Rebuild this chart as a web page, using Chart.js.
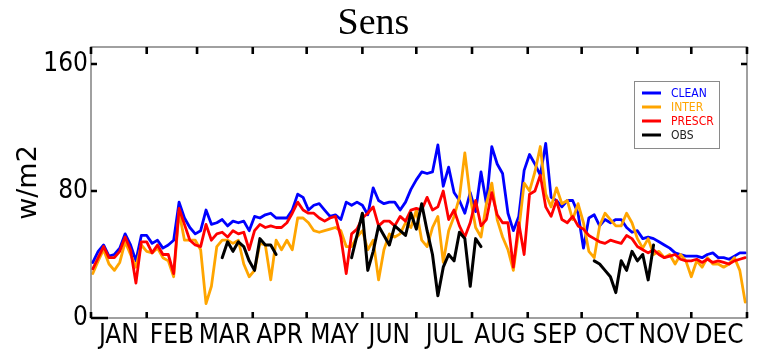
<!DOCTYPE html>
<html>
<head>
<meta charset="utf-8">
<script src="https://cdn.jsdelivr.net/npm/chart.js@4.4.1/dist/chart.umd.min.js"></script>
<style>
html,body{margin:0;padding:0;background:#ffffff;}
canvas{display:block;}
</style>
</head>
<body>
<canvas id="c" width="765" height="356"></canvas>
<script>
// ---------- data ----------
const _ = null;
const chartTitle = 'Sens';
const yTitle = 'w/m2';
const seriesNames = ['CLEAN', 'INTER', 'PRESCR', 'OBS'];
const monthLabels = ['JAN','FEB','MAR','APR','MAY','JUN','JUL','AUG','SEP','OCT','NOV','DEC'];
const monthStarts = [0,31,59,90,120,151,181,212,243,273,304,334,365];
const yTicks = [0, 80, 160];
// day of year of each sample (every 3rd day)
const days = Array.from({length: 122}, (v, i) => 1 + 3 * i);

const clean = [
  35,42,46,39,40,44,53,46,36,52,
  52,47,49,44,46,49,73,63,57,53,
  55,68,59,60,62,58,61,60,61,55,
  64,63,65,66,63,63,63,68,78,76,
  68,71,72,68,64,65,62,73,71,73,
  71,65,82,74,72,73,73,68,73,81,
  87,92,91,92,109,83,95,79,74,66,
  79,67,92,72,108,97,91,66,55,64,
  93,103,97,90,110,76,74,70,74,74,
  66,44,63,65,58,62,60,62,62,57,
  54,55,50,51,50,48,46,44,41,40,
  39,39,39,38,40,41,38,38,37,39,
  41,41
];
const inter = [
  28,36,43,34,30,35,48,40,32,46,
  42,41,44,38,36,26,67,49,49,49,
  43,9,20,45,49,49,47,49,34,26,
  30,47,46,24,49,43,49,43,63,63,
  60,55,54,55,56,57,55,45,45,51,
  55,43,49,24,43,53,51,53,60,57,
  68,49,45,57,64,35,55,64,76,104,
  76,57,51,72,85,62,51,43,30,55,
  85,80,92,108,78,70,82,72,74,62,
  72,60,42,38,58,66,62,58,58,66,
  60,50,44,50,40,42,38,40,34,40,
  36,26,36,32,38,34,34,32,34,38,
  30,10
];
const prescr = [
  31,38,45,38,38,42,51,43,22,48,
  48,41,46,40,40,28,69,59,49,46,
  45,59,49,53,54,51,55,53,54,43,
  55,59,57,58,57,57,60,66,73,68,
  66,66,63,61,63,64,51,28,53,56,
  63,66,70,58,61,61,58,64,61,68,
  69,68,76,68,70,80,62,68,58,51,
  60,74,58,62,79,65,60,60,32,60,
  40,78,80,90,70,64,74,62,60,64,
  58,56,52,50,48,47,49,48,47,52,
  50,45,43,41,43,40,38,39,40,37,
  36,36,37,35,37,35,36,35,34,36,
  37,38
];
const obs = [
  _,_,_,_,_,_,_,_,_,_,
  _,_,_,_,_,_,_,_,_,_,
  _,_,_,_,38,48,42,48,45,36,
  30,50,46,46,40,_,_,_,_,_,
  _,_,_,_,_,_,_,_,38,52,
  66,30,42,58,52,46,58,55,52,66,
  56,72,55,40,14,32,40,36,54,50,
  20,50,45,_,_,_,_,_,_,_,
  _,_,_,_,_,_,_,_,_,_,
  _,_,_,36,34,30,26,16,36,30,
  42,36,40,24,46,_,_,_,_,_,
  _,_,_,_,_,_,_,_,_,_,
  _,_
];
const seriesValues = [clean, inter, prescr, obs];
const seriesColors = ['#0000ff', '#ffa500', '#ff0000', '#000000'];

// ---------- chart ----------
const sansC = "'DejaVu Sans Condensed', 'DejaVu Sans', sans-serif";
const monthMid = monthLabels.map((m, i) => (monthStarts[i] + monthStarts[i + 1]) / 2);

const framePlugin = {
  id: 'frame',
  afterDatasetsDraw(chart) {
    const {ctx, chartArea: a, scales: {x, y}} = chart;
    ctx.save();
    ctx.strokeStyle = '#6e6e6e';
    ctx.lineWidth = 1.3;
    ctx.strokeRect(a.left, a.top, a.right - a.left, a.bottom - a.top);
    ctx.strokeStyle = '#000';
    ctx.lineWidth = 2.6;
    ctx.beginPath();
    monthStarts.forEach(d => {
      const px = x.getPixelForValue(d);
      ctx.moveTo(px, a.top); ctx.lineTo(px, a.top + 7);
      ctx.moveTo(px, a.bottom); ctx.lineTo(px, a.bottom - 6);
    });
    yTicks.forEach(v => {
      const py = y.getPixelForValue(v);
      ctx.moveTo(a.left, py); ctx.lineTo(a.left + (v === 0 ? 17 : 6), py);
      if (v > 0) { ctx.moveTo(a.right, py); ctx.lineTo(a.right - 6, py); }
    });
    ctx.stroke();

    // legend box
    const bw = 85, bh = 67;
    const bx = a.right - 28 - bw, by = a.top + 34;
    ctx.fillStyle = '#fff';
    ctx.fillRect(bx, by, bw, bh);
    ctx.strokeStyle = '#8a8a8a';
    ctx.lineWidth = 1;
    ctx.strokeRect(bx + 0.5, by + 0.5, bw, bh);
    ctx.font = "12px " + sansC;
    ctx.textBaseline = 'middle';
    ctx.textAlign = 'left';
    seriesNames.forEach((n, i) => {
      const ly = by + 12 + i * 14;
      ctx.strokeStyle = seriesColors[i];
      ctx.lineWidth = 3;
      ctx.beginPath();
      ctx.moveTo(bx + 8, ly); ctx.lineTo(bx + 27, ly);
      ctx.stroke();
      ctx.fillStyle = i === 3 ? '#222' : seriesColors[i];
      ctx.fillText(n, bx + 37, ly + 0.5);
    });
    ctx.restore();
  }
};

new Chart(document.getElementById('c'), {
  type: 'line',
  data: {
    datasets: seriesNames.map((n, k) => ({
      label: n,
      data: days.map((d, i) => ({x: d, y: seriesValues[k][i]})),
      borderColor: seriesColors[k],
      backgroundColor: seriesColors[k],
      borderWidth: k === 3 ? 3 : 2.8,
      pointRadius: 0,
      tension: 0,
      spanGaps: false,
      borderJoinStyle: 'round',
      borderCapStyle: 'round',
      order: 4 - k
    }))
  },
  options: {
    responsive: false,
    devicePixelRatio: 1,
    animation: false,
    events: [],
    layout: {padding: {left: 0, right: 18, top: 0, bottom: 0}},
    plugins: {
      legend: {display: false},
      tooltip: {enabled: false},
      title: {
        display: true,
        text: chartTitle,
        color: '#000',
        font: {family: "'Liberation Serif', 'Times New Roman', serif", size: 38, weight: 'normal', lineHeight: 1},
        padding: {top: 5, bottom: 4}
      }
    },
    scales: {
      x: {
        type: 'linear',
        min: 0, max: 365,
        bounds: 'data',
        afterBuildTicks: s => { s.ticks = monthMid.map(v => ({value: v})); },
        afterFit: s => { s.height = 38; },
        ticks: {
          autoSkip: false, maxRotation: 0, minRotation: 0,
          padding: 3, color: '#000',
          font: {family: sansC, size: 26, lineHeight: 1.2},
          callback: (v, i) => monthLabels[i]
        },
        grid: {display: false, drawTicks: false},
        border: {display: false}
      },
      y: {
        type: 'linear',
        min: 0, max: 170.7,
        bounds: 'data',
        afterBuildTicks: s => { s.ticks = yTicks.map(v => ({value: v})); },
        afterFit: s => { s.width = 91; },
        ticks: {
          padding: 3, color: '#000',
          font: {family: sansC, size: 26},
          callback: v => String(v)
        },
        grid: {display: false, drawTicks: false},
        border: {display: false},
        title: {
          display: true,
          text: yTitle,
          color: '#000',
          font: {family: "'DejaVu Sans', sans-serif", size: 27, lineHeight: 1},
          padding: {top: 15, bottom: 0}
        }
      }
    }
  },
  plugins: [framePlugin]
});
</script>
</body>
</html>
